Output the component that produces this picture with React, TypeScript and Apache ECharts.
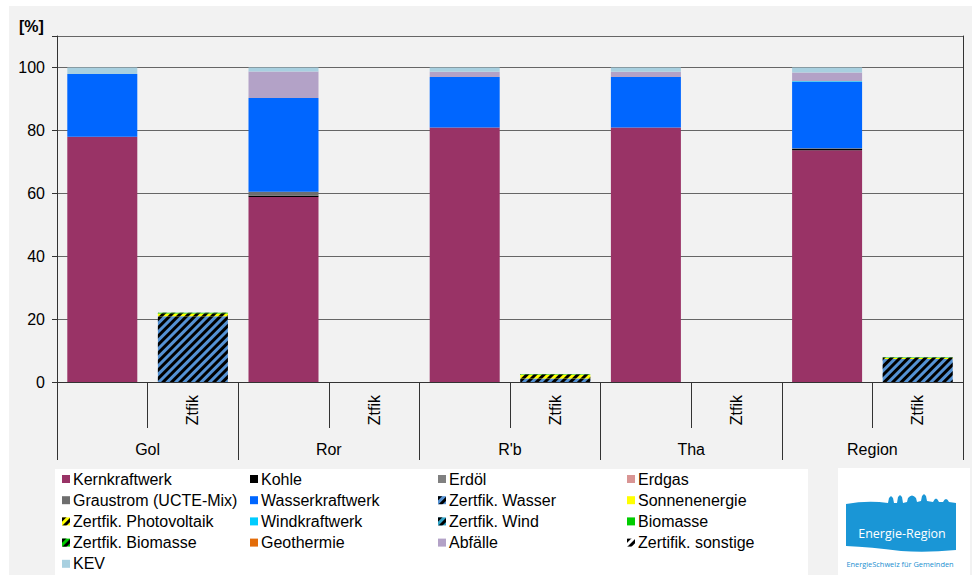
import React, { useEffect, useRef } from "react";
import * as echarts from "echarts";

// ---------- data ----------
const groups = ["Gol", "Ror", "R'b", "Tha", "Region"];
const subLabel = "Ztfik";
const yTicks = [0, 20, 40, 60, 80, 100];

// order of each array: Gol, Gol-Ztfik, Ror, Ror-Ztfik, R'b, R'b-Ztfik, Tha, Tha-Ztfik, Region, Region-Ztfik
const kernkraftwerk = [78.0, null, 58.8, null, 80.9, null, 80.9, null, 73.7, null];
const kohle = [null, null, 0.4, null, null, null, null, null, 0.4, null];
const erdoel = [null, null, null, null, null, null, null, null, null, null];
const erdgas = [null, null, null, null, null, null, null, null, null, null];
const graustrom = [null, null, 1.3, null, null, null, null, null, 0.2, null];
const wasserkraftwerk = [19.9, null, 29.8, null, 16.1, null, 16.1, null, 21.1, null];
const zertWasser = [null, 20.9, null, null, null, 1.1, null, null, null, 7.3];
const sonnenenergie = [null, null, null, null, null, null, null, null, null, null];
const zertPV = [null, 0.9, null, null, null, 1.2, null, null, null, 0.3];
const windkraftwerk = [null, null, null, null, null, null, null, null, 0.2, null];
const zertWind = [null, null, null, null, null, null, null, null, null, null];
const biomasse = [null, null, null, null, null, null, null, null, null, null];
const zertBiomasse = [null, 0.2, null, null, null, 0.2, null, null, null, 0.2];
const geothermie = [null, null, null, null, null, null, null, null, null, null];
const abfaelle = [null, null, 8.4, null, 1.6, null, 1.6, null, 2.8, null];
const zertSonstige = [null, null, null, null, null, null, null, null, null, null];
const kev = [2.1, null, 1.3, null, 1.4, null, 1.4, null, 1.6, null];

const seriesDefs = [
  { name: "Kernkraftwerk", color: "#993366", data: kernkraftwerk, hatch: false },
  { name: "Kohle", color: "#000000", data: kohle, hatch: false },
  { name: "Erdöl", color: "#808080", data: erdoel, hatch: false },
  { name: "Erdgas", color: "#d99594", data: erdgas, hatch: false },
  { name: "Graustrom (UCTE-Mix)", color: "#6e6e6e", data: graustrom, hatch: false },
  { name: "Wasserkraftwerk", color: "#0066ff", data: wasserkraftwerk, hatch: false },
  { name: "Zertfik. Wasser", color: "#5592d4", data: zertWasser, hatch: true },
  { name: "Sonnenenergie", color: "#ffff00", data: sonnenenergie, hatch: false },
  { name: "Zertfik. Photovoltaik", color: "#ffff00", data: zertPV, hatch: true },
  { name: "Windkraftwerk", color: "#00ccff", data: windkraftwerk, hatch: false },
  { name: "Zertfik. Wind", color: "#31a5c9", data: zertWind, hatch: true },
  { name: "Biomasse", color: "#00cc00", data: biomasse, hatch: false },
  { name: "Zertfik. Biomasse", color: "#00cc00", data: zertBiomasse, hatch: true },
  { name: "Geothermie", color: "#e36c09", data: geothermie, hatch: false },
  { name: "Abfälle", color: "#b3a2c7", data: abfaelle, hatch: false },
  { name: "Zertifik. sonstige", color: "#ffffff", data: zertSonstige, hatch: true },
  { name: "KEV", color: "#a8d0e0", data: kev, hatch: false },
];

const legendColumns = [
  ["Kernkraftwerk", "Graustrom (UCTE-Mix)", "Zertfik. Photovoltaik", "Zertfik. Biomasse", "KEV"],
  ["Kohle", "Wasserkraftwerk", "Windkraftwerk", "Geothermie"],
  ["Erdöl", "Zertfik. Wasser", "Zertfik. Wind", "Abfälle"],
  ["Erdgas", "Sonnenenergie", "Biomasse", "Zertifik. sonstige"],
];
const legendLefts = [62, 250, 438, 627];

// logo outline (wave with skyline)
const logoPath =
  "M0 13 Q22 9 42 12 L43 7 L45 5 L47 7 L48 12 L51 12 L52 6 L54 4 L56 6 L57 12 L61 11 L62 7 Q66 2 70 7 L71 11 L75 10 L76 5 L78 3 L80 5 L81 10 L87 11 Q90 4 93 11 L97 11 Q100 5 103 11 L110 12 L110 59 Q80 62 55 60 Q25 56 0 55 Z";
echarts.graphic.registerShape("logo", echarts.graphic.extendPath(logoPath, {}) as any);

const FONT = "'Liberation Sans', Arial, sans-serif";

export default function App() {
  const ref = useRef<HTMLDivElement>(null);
  useEffect(() => {
    if (!ref.current) return;
    const chart = echarts.init(ref.current, undefined, { renderer: "svg" });
    const slots = groups.flatMap((g) => [g + "|", g + "|" + subLabel]);
    const hatchDecal = {
      symbol: "rect",
      symbolSize: 1,
      dashArrayX: [1, 0],
      dashArrayY: [2.2, 2.2],
      rotation: -Math.PI / 4,
      color: "#000000",
    };
    const option: any = {
      animation: false,
      textStyle: { fontFamily: FONT },
      grid: { left: 57, right: 9, top: 36, bottom: 193, containLabel: false },
      xAxis: [
        {
          type: "category",
          data: slots,
          position: "bottom",
          axisLine: { show: true, lineStyle: { color: "#333", width: 1 } },
          axisTick: { show: true, interval: 0, length: 46, lineStyle: { color: "#333" } },
          axisLabel: {
            interval: 0,
            rotate: 90,
            margin: 13,
            fontSize: 16,
            color: "#000",
            fontFamily: FONT,
            formatter: (v: string) => v.split("|")[1],
          },
          splitLine: { show: false },
        },
        {
          type: "category",
          data: groups,
          position: "bottom",
          axisLine: { show: false },
          axisTick: { show: true, interval: 0, length: 78, lineStyle: { color: "#333" } },
          axisLabel: { interval: 0, margin: 59, fontSize: 16, color: "#000", fontFamily: FONT },
          splitLine: { show: false },
        },
      ],
      yAxis: [
        {
          type: "value",
          min: 0,
          max: 110,
          interval: 20,
          axisLine: { show: true, lineStyle: { color: "#333" } },
          axisTick: { show: true, length: 5, lineStyle: { color: "#333" } },
          axisLabel: {
            margin: 12,
            fontSize: 16,
            color: "#000",
            fontFamily: FONT,
            formatter: (v: number) => (yTicks.includes(v) ? String(v) : ""),
          },
          splitLine: { show: true, lineStyle: { color: "#666", width: 1 } },
        },
        {
          type: "value",
          min: 0,
          max: 110,
          interval: 20,
          position: "right",
          axisLine: { show: true, lineStyle: { color: "#333" } },
          axisTick: { show: false },
          axisLabel: { show: false },
          splitLine: { show: false },
        },
      ],
      legend: legendColumns.map((col, i) => ({
        data: col,
        orient: "vertical",
        left: legendLefts[i],
        top: 471,
        icon: "rect",
        itemWidth: 8,
        itemHeight: 8,
        itemGap: 5.2,
        padding: 0,
        selectedMode: false,
        textStyle: { fontSize: 16, lineHeight: 16, color: "#000", fontFamily: FONT, padding: [0, 0, 0, -2] },
      })),
      graphic: [
        { type: "rect", shape: { x: 55, y: 469, width: 753, height: 106 }, style: { fill: "#ffffff" }, z: -1, silent: true },
        { type: "rect", shape: { x: 838, y: 468, width: 132, height: 107 }, style: { fill: "#ffffff" }, z: -1, silent: true },
        {
          type: "text",
          x: 19,
          y: 18,
          style: { text: "[%]", fontSize: 16, fontWeight: "bold", fill: "#000", font: "bold 16px " + FONT },
        },
        { type: "logo", x: 846, y: 491, style: { fill: "#1a96d6" } },
        {
          type: "text",
          x: 902,
          y: 533,
          style: {
            text: "Energie-Region",
            fill: "#ffffff",
            font: "12.5px 'Open Sans', " + FONT,
            align: "center",
            verticalAlign: "middle",
          },
        },
        {
          type: "text",
          x: 900,
          y: 564,
          style: {
            text: "EnergieSchweiz für Gemeinden",
            fill: "#1a8fd0",
            font: "7.4px 'Open Sans', " + FONT,
            align: "center",
            verticalAlign: "middle",
          },
        },
      ],
      series: seriesDefs.map((s) => ({
        name: s.name,
        type: "bar",
        stack: "total",
        xAxisIndex: 0,
        yAxisIndex: 0,
        barWidth: 70,
        data: s.data,
        itemStyle: {
          color: s.color,
          decal: s.hatch ? hatchDecal : undefined,
        },
        emphasis: { disabled: true },
      })),
    };
    chart.setOption(option);
    return () => chart.dispose();
  }, []);
  return (
    <div style={{ position: "fixed", left: 0, top: 0, width: 972, height: 575, background: "#ffffff" }}>
      <div style={{ position: "absolute", left: 9, top: 6, width: 963, height: 569, background: "#f2f2f2" }} />
      <div ref={ref} style={{ position: "absolute", left: 0, top: 0, width: 972, height: 575 }} />
    </div>
  );
}
